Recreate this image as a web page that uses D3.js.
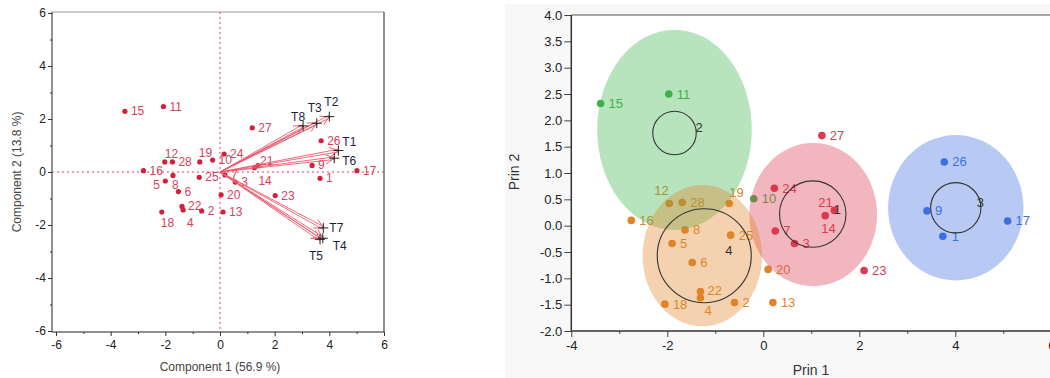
<!DOCTYPE html>
<html>
<head>
<meta charset="utf-8">
<script src="https://cdn.jsdelivr.net/npm/d3@7"></script>
<style>
body { margin:0; background:#fff; }
svg text { font-family: Arial, "Liberation Sans", sans-serif; }
</style>
</head>
<body>
<svg id="chart" width="1050" height="378"></svg>
<script>
// observations 1..28
var obsLabels = ["1","2","3","4","5","6","7","8","9","10","11","12","13","14","15","16","17","18","19","20","21","22","23","24","25","26","27","28"];
// biplot scores (Component 1 / Component 2)
var comp1 = [3.66,-0.67,0.56,-1.35,-2.00,-1.52,0.18,-1.72,3.37,-0.27,-2.07,-2.02,0.11,1.26,-3.48,-2.80,5.01,-2.13,-0.74,0.04,1.39,-1.39,2.02,0.15,-0.76,3.70,1.18,-1.74];
var comp2 = [-0.24,-1.47,-0.38,-1.43,-0.34,-0.74,-0.11,-0.13,0.25,0.45,2.47,0.38,-1.51,0.16,2.29,0.05,0.05,-1.51,0.38,-0.86,0.24,-1.30,-0.89,0.68,-0.20,1.18,1.67,0.38];
// cluster plot scores (Prin 1 / Prin 2)
var prin1 = [3.74,-0.60,0.65,-1.31,-1.90,-1.48,0.25,-1.63,3.41,-0.20,-1.97,-1.96,0.20,1.29,-3.39,-2.75,5.09,-2.05,-0.71,0.10,1.48,-1.31,2.10,0.23,-0.68,3.77,1.22,-1.69];
var prin2 = [-0.20,-1.46,-0.34,-1.37,-0.34,-0.70,-0.10,-0.08,0.28,0.51,2.50,0.42,-1.46,0.19,2.32,0.10,0.09,-1.49,0.42,-0.83,0.29,-1.25,-0.85,0.71,-0.18,1.21,1.71,0.44];
var clusterOf = [3,4,1,4,4,4,1,4,3,2,2,4,4,1,2,4,3,4,4,4,1,4,1,1,4,3,1,4];

// loadings
var loadingLabels = ["T1","T2","T3","T4","T5","T6","T7","T8"];
var loadingComp1 = [4.33,4.00,3.54,3.76,3.66,4.18,3.78,3.04];
var loadingComp2 = [0.81,2.09,1.84,-2.50,-2.54,0.52,-2.11,1.74];

// clusters
var clusterIds = [1,2,3,4];
var clusterCenterX = [1.03,-1.85,4.01,-1.23];
var clusterCenterY = [0.22,1.76,0.34,-0.57];
var ellipseCx = [1.04,-1.85,4.01,-1.27];
var ellipseCy = [0.21,1.82,0.34,-0.57];
var ellipseRx = [1.33,1.61,1.41,1.245];
var ellipseRy = [1.36,1.90,1.38,1.34];

// ticks
var compTicks = [-6,-5,-4,-3,-2,-1,0,1,2,3,4,5,6];
var prinXTicks = [-4,-3,-2,-1,0,1,2,3,4,5,6];
var prinYTicks = [-2,-1.5,-1,-0.5,0,0.5,1,1.5,2,2.5,3,3.5,4];

var clusterColor = {1:"#dc3a52", 2:"#3cb44b", 3:"#3f6fe0", 4:"#e08428"};

// label placement tweaks (px offsets)
var leftLabelPos = {"19":[-1,-9],"12":[0,-8],"21":[2,-5],"14":[4,13],"4":[4,13],"18":[-1,11],"8":[-1,10],"5":[-12,4]};
var rightLabelPos = {"12":[-15,-13],"19":[0,-11],"21":[-16,-8],"14":[-4,13],"4":[4,13],"1":[9,0],"22":[7,-1]};
var loadLabelPos = {"T1":[4,-9],"T2":[-5,-15],"T3":[-9,-15],"T4":[10,8],"T5":[-11,17],"T6":[8,3],"T7":[6,0],"T8":[-12,-9]};

var obs = obsLabels.map(function (d, i) {
    return {id:d, c1:comp1[i], c2:comp2[i], p1:prin1[i], p2:prin2[i], cl:clusterOf[i]};
});

var svg = d3.select("#chart");

// ================= left: biplot =================
var xL = d3.scaleLinear().domain([-6,6]).range([56,384]);
var yL = d3.scaleLinear().domain([-6,6]).range([331,13]);
var L = {left:52, right:384, top:12, bottom:332};

var gl = svg.append("g");

gl.append("line").attr("x1",L.left).attr("x2",L.right).attr("y1",L.top).attr("y2",L.top)
    .attr("stroke","#999");
gl.append("line").attr("x1",L.right).attr("x2",L.right).attr("y1",L.top).attr("y2",L.bottom)
    .attr("stroke","#222");

var xAxisL = gl.append("g")
    .attr("transform","translate(0,"+L.bottom+")")
    .call(d3.axisBottom(xL).tickValues(compTicks).tickSizeOuter(0)
        .tickFormat(function (d) { return d % 2 === 0 ? d : ""; }));
var yAxisL = gl.append("g")
    .attr("transform","translate("+L.left+",0)")
    .call(d3.axisLeft(yL).tickValues(compTicks).tickSizeOuter(0)
        .tickFormat(function (d) { return d % 2 === 0 ? d : ""; }));

[xAxisL, yAxisL].forEach(function (ax) {
    ax.select(".domain").remove();
    ax.selectAll(".tick line").attr("stroke","#333");
    ax.selectAll(".tick text").attr("font-size",12).attr("fill","#222");
});
xAxisL.selectAll(".tick line").attr("y2", function (d) { return d % 2 === 0 ? 4 : 2; });
xAxisL.selectAll(".tick text").attr("y",8);
yAxisL.selectAll(".tick line").attr("x2", function (d) { return d % 2 === 0 ? -4 : -2; });
yAxisL.selectAll(".tick text").attr("x",-6);

gl.append("line").attr("x1",L.left).attr("x2",L.right).attr("y1",L.bottom).attr("y2",L.bottom)
    .attr("stroke","#222");
gl.append("line").attr("x1",L.left).attr("x2",L.left).attr("y1",L.top).attr("y2",L.bottom)
    .attr("stroke","#222");

// dotted reference lines
gl.append("line").attr("x1",xL(0)).attr("x2",xL(0)).attr("y1",L.top).attr("y2",L.bottom)
    .attr("stroke","#e23e5c").attr("stroke-dasharray","2,3");
gl.append("line").attr("x1",L.left).attr("x2",L.right).attr("y1",yL(0)).attr("y2",yL(0))
    .attr("stroke","#e23e5c").attr("stroke-dasharray","2,3");

// points
gl.selectAll("circle.obs").data(obs).enter().append("circle")
    .attr("class","obs")
    .attr("cx", function (d) { return xL(d.c1); })
    .attr("cy", function (d) { return yL(d.c2); })
    .attr("r",2.6)
    .attr("fill","#d11f3c");

gl.selectAll("text.obs").data(obs).enter().append("text")
    .attr("class","obs")
    .attr("x", function (d) { var o = leftLabelPos[d.id] || [6,0]; return xL(d.c1)+o[0]; })
    .attr("y", function (d) { var o = leftLabelPos[d.id] || [6,0]; return yL(d.c2)+o[1]; })
    .attr("dominant-baseline","central")
    .attr("font-size",12)
    .attr("fill","#d9405c")
    .text(function (d) { return d.id; });

// loading arrows
var loads = loadingLabels.map(function (d, i) { return {id:d, x:loadingComp1[i], y:loadingComp2[i]}; });
var ox = xL(0), oy = yL(0);
var ga = gl.append("g");
loads.forEach(function (d) {
    var tx = xL(d.x), ty = yL(d.y);
    var a = Math.atan2(ty-oy, tx-ox);
    var px = -Math.sin(a)*1.3, py = Math.cos(a)*1.3;
    ga.append("path")
        .attr("d","M"+ox+","+oy+"L"+(tx+px)+","+(ty+py)+"L"+(tx-px)+","+(ty-py)+"Z")
        .attr("fill","none").attr("stroke","#ef5a6e").attr("stroke-width",0.9);
    var h = 10, s = 0.5;
    ga.append("path")
        .attr("d","M"+(tx+h*Math.cos(a+Math.PI-s))+","+(ty+h*Math.sin(a+Math.PI-s))
            +"L"+tx+","+ty
            +"L"+(tx+h*Math.cos(a+Math.PI+s))+","+(ty+h*Math.sin(a+Math.PI+s)))
        .attr("fill","none").attr("stroke","#ef5a6e").attr("stroke-width",1);
});
loads.forEach(function (d) {
    var tx = xL(d.x), ty = yL(d.y);
    ga.append("path")
        .attr("d","M"+(tx-5)+","+ty+"H"+(tx+5)+"M"+tx+","+(ty-5)+"V"+(ty+5))
        .attr("stroke","#222").attr("stroke-width",1);
    var o = loadLabelPos[d.id];
    ga.append("text")
        .attr("x",tx+o[0]).attr("y",ty+o[1])
        .attr("dominant-baseline","central")
        .attr("font-size",12)
        .attr("fill","#1c1c40")
        .text(d.id);
});

gl.append("text").attr("x",220).attr("y",367)
    .attr("text-anchor","middle").attr("dominant-baseline","central")
    .attr("font-size",12).attr("fill","#444")
    .text("Component 1  (56.9 %)");
gl.append("g").attr("transform","translate(17,172)")
    .append("text").attr("transform","rotate(-90)")
    .attr("text-anchor","middle").attr("dominant-baseline","central")
    .attr("font-size",12).attr("fill","#444")
    .text("Component 2  (13.8 %)");

// ================= right: cluster plot =================
var xR = d3.scaleLinear().domain([-4,6]).range([571.3,1051.3]);
var yR = d3.scaleLinear().domain([-2,4]).range([331,15]);

var gr = svg.append("g");
gr.append("rect").attr("x",505).attr("y",4).attr("width",545).attr("height",374).attr("fill","#f8f8f8");
gr.append("rect").attr("x",xR(-4)).attr("y",yR(4)).attr("width",xR(6)-xR(-4)).attr("height",yR(-2)-yR(4))
    .attr("fill","#fff");

gr.selectAll("circle.obs").data(obs).enter().append("circle")
    .attr("class","obs")
    .attr("cx", function (d) { return xR(d.p1); })
    .attr("cy", function (d) { return yR(d.p2); })
    .attr("r",3.8)
    .attr("fill", function (d) { return clusterColor[d.cl]; });

gr.selectAll("text.obs").data(obs).enter().append("text")
    .attr("class","obs")
    .attr("x", function (d) { var o = rightLabelPos[d.id] || [8,0]; return xR(d.p1)+o[0]; })
    .attr("y", function (d) { var o = rightLabelPos[d.id] || [8,0]; return yR(d.p2)+o[1]; })
    .attr("dominant-baseline","central")
    .attr("font-size",13)
    .attr("fill", function (d) { return clusterColor[d.cl]; })
    .text(function (d) { return d.id; });

var clusters = clusterIds.map(function (c, i) {
    return {id:c, cx:clusterCenterX[i], cy:clusterCenterY[i],
        ex:ellipseCx[i], ey:ellipseCy[i], rx:ellipseRx[i], ry:ellipseRy[i],
        n:clusterOf.filter(function (k) { return k === c; }).length};
});

gr.selectAll("ellipse").data(clusters).enter().append("ellipse")
    .attr("cx", function (d) { return xR(d.ex); })
    .attr("cy", function (d) { return yR(d.ey); })
    .attr("rx", function (d) { return xR(d.ex+d.rx)-xR(d.ex); })
    .attr("ry", function (d) { return yR(d.ey-d.ry)-yR(d.ey); })
    .attr("fill", function (d) { return clusterColor[d.id]; })
    .attr("fill-opacity",0.37);

var rScale = d3.scaleSqrt().domain([0,14]).range([0,47]);
gr.selectAll("circle.cent").data(clusters).enter().append("circle")
    .attr("class","cent")
    .attr("cx", function (d) { return xR(d.cx); })
    .attr("cy", function (d) { return yR(d.cy); })
    .attr("r", function (d) { return rScale(d.n); })
    .attr("fill","none").attr("stroke","#333").attr("stroke-width",1.1);
gr.selectAll("text.cent").data(clusters).enter().append("text")
    .attr("class","cent")
    .attr("x", function (d) { return xR(d.cx)+21; })
    .attr("y", function (d) { return yR(d.cy)-5; })
    .attr("dominant-baseline","central")
    .attr("font-size",13).attr("fill","#333")
    .text(function (d) { return d.id; });

var xAxisR = gr.append("g")
    .attr("transform","translate(0,"+yR(-2)+")")
    .call(d3.axisBottom(xR).tickValues(prinXTicks).tickSizeOuter(0)
        .tickFormat(function (d) { return d % 2 === 0 ? d : ""; }));
var yAxisR = gr.append("g")
    .attr("transform","translate("+xR(-4)+",0)")
    .call(d3.axisLeft(yR).tickValues(prinYTicks).tickSizeOuter(0).tickSize(7)
        .tickFormat(function (d) { return d.toFixed(1); }));
[xAxisR, yAxisR].forEach(function (ax) {
    ax.select(".domain").remove();
    ax.selectAll(".tick line").attr("stroke","#444");
    ax.selectAll(".tick text").attr("font-size",13).attr("fill","#222");
});
xAxisR.selectAll(".tick line").attr("y2", function (d) { return d % 2 === 0 ? 6 : 3; });
xAxisR.selectAll(".tick text").attr("y",10);
yAxisR.selectAll(".tick text").attr("x",-9);

gr.append("line").attr("x1",xR(-4)).attr("x2",1050).attr("y1",yR(-2)).attr("y2",yR(-2))
    .attr("stroke","#333").attr("stroke-width",1.5);
gr.append("line").attr("x1",xR(-4)).attr("x2",1050).attr("y1",yR(4)).attr("y2",yR(4))
    .attr("stroke","#555").attr("stroke-width",1.2);
gr.append("line").attr("x1",xR(-4)).attr("x2",xR(-4)).attr("y1",yR(4)).attr("y2",yR(-2))
    .attr("stroke","#333").attr("stroke-width",1.5);

gr.append("text").attr("x",811).attr("y",370)
    .attr("text-anchor","middle").attr("dominant-baseline","central")
    .attr("font-size",14).attr("fill","#333")
    .text("Prin 1");
gr.append("g").attr("transform","translate(514,172)")
    .append("text").attr("transform","rotate(-90)")
    .attr("text-anchor","middle").attr("dominant-baseline","central")
    .attr("font-size",14).attr("fill","#333")
    .text("Prin 2");
</script>
</body>
</html>
